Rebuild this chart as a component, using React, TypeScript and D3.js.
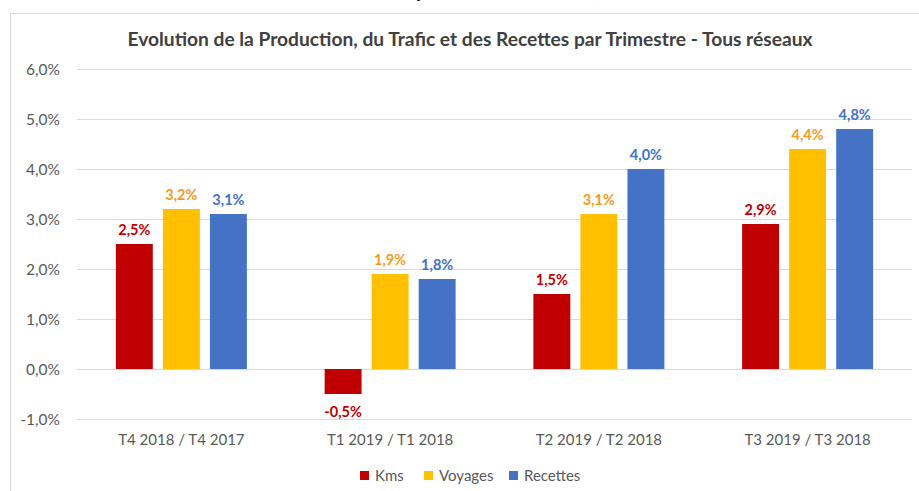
import React from "react";
import * as d3 from "d3";

const categories = ["T4 2018 / T4 2017", "T1 2019 / T1 2018", "T2 2019 / T2 2018", "T3 2019 / T3 2018"];
const seriesNames = ["Kms", "Voyages", "Recettes"];
const kms = [2.5, -0.5, 1.5, 2.9];
const voyages = [3.2, 1.9, 3.1, 4.4];
const recettes = [3.1, 1.8, 4.0, 4.8];
const yTicks = [-1, 0, 1, 2, 3, 4, 5, 6];
const title = "Evolution de la Production, du Trafic et des Recettes par Trimestre - Tous réseaux";

const barColors = ["#C00000", "#FFC000", "#4472C4"];
const labelColors = ["#C00000", "#F79A1E", "#4472C4"];

const W = 919;
const H = 491;
const FONT = "Lato, 'Open Sans', sans-serif";

export default function App() {
  const values = [kms, voyages, recettes];
  const y = d3.scaleLinear().domain([-1, 6]).range([419, 69]);
  const x0 = d3.scaleBand<string>().domain(categories).range([77, 912]).paddingInner(0.3725).paddingOuter(0.18625);
  const x1 = d3.scaleBand<string>().domain(seriesNames).range([0, x0.bandwidth()]).paddingInner(0.215);
  const fmt = (v: number) => v.toFixed(1).replace(".", ",") + "%";

  const legendItems = [
    { name: "Kms", x: 360 },
    { name: "Voyages", x: 424 },
    { name: "Recettes", x: 509 },
  ];

  return (
    <svg width={W} height={H} style={{ position: "absolute", left: 0, top: 0, background: "#fff" }} fontFamily={FONT}>
      <rect x={0} y={0} width={W} height={H} fill="#fff" />
      {/* cut-off document heading above chart */}
      <g fontWeight="bold" fontSize={20} fill="#000">
        <text x={410} y={-3} textAnchor="end">Chiffres clés du réseau</text>
        <text x={416} y={-3}>par trimestre</text>
        <text x={590} y={-3} textLength={259} lengthAdjust="spacing">(évolution en % sur un an)</text>
      </g>
      {/* chart frame */}
      <path d={`M10.5,${H} V13.5 H${W}`} fill="none" stroke="#d9d9d9" strokeWidth={1} />

      <text x={470} y={46} textAnchor="middle" fontSize={19} fontWeight="bold" fill="#404040" textLength={685} lengthAdjust="spacingAndGlyphs">{title}</text>

      {yTicks.map((t) => (
        <g key={t}>
          <line x1={77} x2={912} y1={Math.round(y(t)) + 0.5} y2={Math.round(y(t)) + 0.5} stroke="#d9d9d9" strokeWidth={1} />
          <text x={60} y={y(t) + 5.5} textAnchor="end" fontSize={15.5} fill="#595959">{fmt(t)}</text>
        </g>
      ))}

      {categories.map((c, ci) => (
        <g key={c} transform={`translate(${x0(c)},0)`}>
          {seriesNames.map((s, si) => {
            const v = values[si][ci];
            const top = y(Math.max(0, v));
            const h = Math.abs(y(v) - y(0));
            const bx = x1(s)!;
            const bw = x1.bandwidth();
            return (
              <g key={s}>
                <rect x={bx} y={top} width={bw} height={h} fill={barColors[si]} />
                <text
                  x={bx + bw / 2}
                  y={v >= 0 ? y(v) - 9.5 : y(v) + 23}
                  textAnchor="middle"
                  fontSize={14.5}
                  fontWeight="bold"
                  fill={labelColors[si]}
                >
                  {fmt(v)}
                </text>
              </g>
            );
          })}
          <text x={x0.bandwidth() / 2} y={445} textAnchor="middle" fontSize={15} fill="#595959">{c}</text>
        </g>
      ))}

      {legendItems.map((l, i) => (
        <g key={l.name}>
          <rect x={l.x} y={471} width={9} height={9} fill={barColors[i]} />
          <text x={l.x + 15} y={481} fontSize={15} fill="#595959">{l.name}</text>
        </g>
      ))}
    </svg>
  );
}
